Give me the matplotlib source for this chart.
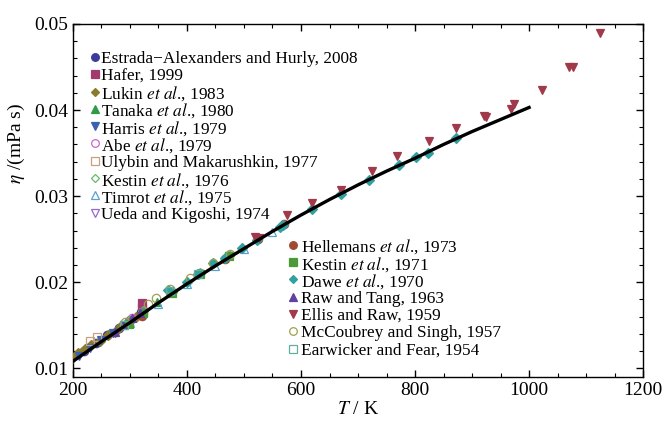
import numpy as np
import matplotlib
matplotlib.use("Agg")
import matplotlib.pyplot as plt
from matplotlib.ticker import MultipleLocator, FormatStrFormatter

# CO2 dilute-gas viscosity vs temperature, literature data + correlation

plt.rcParams['font.family'] = ['Liberation Serif', 'DejaVu Serif']
plt.rcParams['mathtext.fontset'] = 'stix'

# correlation curve
curve_T = [200, 250, 300, 350, 400, 450, 500, 550, 600, 650, 700, 750, 800, 850, 900, 950, 1000]
curve_eta = [0.0108, 0.0131, 0.0153, 0.0176, 0.0198, 0.0219, 0.0239, 0.0259, 0.0278, 0.0296,
             0.0313, 0.0329, 0.0344, 0.0360, 0.0375, 0.0389, 0.0403]

estrada_T = [220, 240, 260, 280, 300, 320]
estrada_eta = [0.0120, 0.0129, 0.0138, 0.0147, 0.0156, 0.0165]
hafer_T = [321, 321, 323]
hafer_eta = [0.0176, 0.0170, 0.0165]
lukin_T = [198, 209, 221, 232, 247, 261, 274, 284, 298, 310]
lukin_eta = [0.0112, 0.0118, 0.0122, 0.0127, 0.0132, 0.0139, 0.0142, 0.0149, 0.0155, 0.0160]
tanaka_T = [298, 323, 348]
tanaka_eta = [0.0153, 0.0165, 0.0177]
harris_T = [210, 230, 250, 270, 290]
harris_eta = [0.0114, 0.0123, 0.0133, 0.0141, 0.0150]
abe_T = [303, 423]
abe_eta = [0.0158, 0.0211]
ulybin_T = [230, 242]
ulybin_eta = [0.0132, 0.0136]
kestin76_T = [298, 323, 373, 423, 473]
kestin76_eta = [0.0155, 0.0166, 0.0189, 0.0211, 0.0232]
timrot_T = [300, 350, 400, 450, 500, 550]
timrot_eta = [0.0152, 0.0175, 0.0198, 0.0219, 0.0239, 0.0258]
ueda_T = [298, 323, 373, 423, 473]
ueda_eta = [0.0153, 0.0165, 0.0187, 0.0209, 0.0230]
hellemans_T = [321, 420, 466, 524, 571]
hellemans_eta = [0.0161, 0.0209, 0.0227, 0.0250, 0.0268]
kestin71_T = [298, 323, 373, 423, 473]
kestin71_eta = [0.0151, 0.0164, 0.0187, 0.0209, 0.0230]
dawe_T = [366, 400, 419, 445, 466, 496, 522, 563, 568, 620, 671, 720, 771, 801, 822, 871]
dawe_eta = [0.0191, 0.0200, 0.0210, 0.0222, 0.0228, 0.0240, 0.0249, 0.0264, 0.0266, 0.0285,
            0.0302, 0.0319, 0.0336, 0.0345, 0.0350, 0.0367]
raw_T = [274, 288, 303, 318]
raw_eta = [0.0142, 0.0150, 0.0158, 0.0164]
ellis_T = [519, 526, 575, 620, 671, 724, 769, 825, 871, 921, 925, 969, 974, 1023, 1070, 1077, 1125]
ellis_eta = [0.0252, 0.0251, 0.0278, 0.0292, 0.0307, 0.0329, 0.0347, 0.0364, 0.0379, 0.0393,
             0.0392, 0.0401, 0.0407, 0.0423, 0.0450, 0.0450, 0.0490]
mccoubrey_T = [291, 331, 345, 370, 405, 445, 475]
mccoubrey_eta = [0.0154, 0.0175, 0.0181, 0.0192, 0.0205, 0.0222, 0.0233]
earwicker_T = [290, 370, 420]
earwicker_eta = [0.0150, 0.0190, 0.0210]

# (label, T, eta, marker, color, filled)
series_left = [
    ("Estrada\u2212Alexanders and Hurly, 2008", estrada_T, estrada_eta, 'o', '#3b3b9b', True),
    ("Hafer, 1999", hafer_T, hafer_eta, 's', '#a33a6e', True),
    (r"Lukin $\mathit{et\ al}$., 1983", lukin_T, lukin_eta, 'D', '#8b7b2b', True),
    (r"Tanaka $\mathit{et\ al}$., 1980", tanaka_T, tanaka_eta, '^', '#2e9a4a', True),
    (r"Harris $\mathit{et\ al}$., 1979", harris_T, harris_eta, 'v', '#3a62b0', True),
    (r"Abe $\mathit{et\ al}$., 1979", abe_T, abe_eta, 'o', '#cc66cc', False),
    ("Ulybin and Makarushkin, 1977", ulybin_T, ulybin_eta, 's', '#c8a080', False),
    (r"Kestin $\mathit{et\ al}$., 1976", kestin76_T, kestin76_eta, 'D', '#66bb66', False),
    (r"Timrot $\mathit{et\ al}$., 1975", timrot_T, timrot_eta, '^', '#5aa0d0', False),
    ("Ueda and Kigoshi, 1974", ueda_T, ueda_eta, 'v', '#9966cc', False),
]
series_right = [
    (r"Hellemans $\mathit{et\ al}$., 1973", hellemans_T, hellemans_eta, 'o', '#a04a30', True),
    (r"Kestin $\mathit{et\ al}$., 1971", kestin71_T, kestin71_eta, 's', '#4a9a3a', True),
    (r"Dawe $\mathit{et\ al}$., 1970", dawe_T, dawe_eta, 'D', '#30a0a0', True),
    ("Raw and Tang, 1963", raw_T, raw_eta, '^', '#6040a0', True),
    ("Ellis and Raw, 1959", ellis_T, ellis_eta, 'v', '#a03a4a', True),
    ("McCoubrey and Singh, 1957", mccoubrey_T, mccoubrey_eta, 'o', '#a0a050', False),
    ("Earwicker and Fear, 1954", earwicker_T, earwicker_eta, 's', '#60b0a0', False),
]

fig = plt.figure(figsize=(6.63, 4.21), dpi=100)
ax = fig.add_axes([0.110, 0.105, 0.860, 0.838])


def marker_style(mk, col, filled, ms):
    if mk == 'D':
        ms = ms * 0.8
    return dict(linestyle='none', marker=mk, ms=ms,
                mfc=col if filled else 'none', mec=col, mew=0.9)


def draw(series, x_mark, x_text, y0, dy=0.049):
    # data points + a hand-placed key (marker + label) for each series
    for i, (label, T, eta, mk, col, filled) in enumerate(series):
        ax.plot(T, eta, zorder=3, **marker_style(mk, col, filled, 6))
        y = y0 - i * dy
        ax.plot([x_mark], [y], transform=ax.transAxes, clip_on=False,
                **marker_style(mk, col, filled, 5.5))
        ax.text(x_text, y, label, transform=ax.transAxes, fontsize=12.4,
                ha='left', va='center_baseline')


draw(series_left, 0.0386, 0.049, 0.9065)
draw(series_right, 0.386, 0.400, 0.374)

ax.plot(curve_T, curve_eta, color='black', lw=2.4, zorder=4)

ax.set_xlim(200, 1200)
ax.set_ylim(0.009, 0.05)
ax.xaxis.set_major_locator(MultipleLocator(200))
ax.xaxis.set_minor_locator(MultipleLocator(50))
ax.yaxis.set_major_locator(MultipleLocator(0.01))
ax.yaxis.set_minor_locator(MultipleLocator(0.002))
ax.yaxis.set_major_formatter(FormatStrFormatter('%.2f'))
ax.tick_params(which='both', direction='in', top=True, right=True, labelsize=14)
ax.tick_params(which='major', length=5, width=1)
ax.tick_params(which='minor', length=3, width=0.8)
for sp in ax.spines.values():
    sp.set_linewidth(1)

ax.set_xlabel(r"$T$ / K", fontsize=14, labelpad=2)
ax.set_ylabel(r"$\eta$ /(mPa s)", fontsize=14)
ax.yaxis.set_label_coords(-0.081, 0.66)

fig.savefig("out.png", dpi=100)
